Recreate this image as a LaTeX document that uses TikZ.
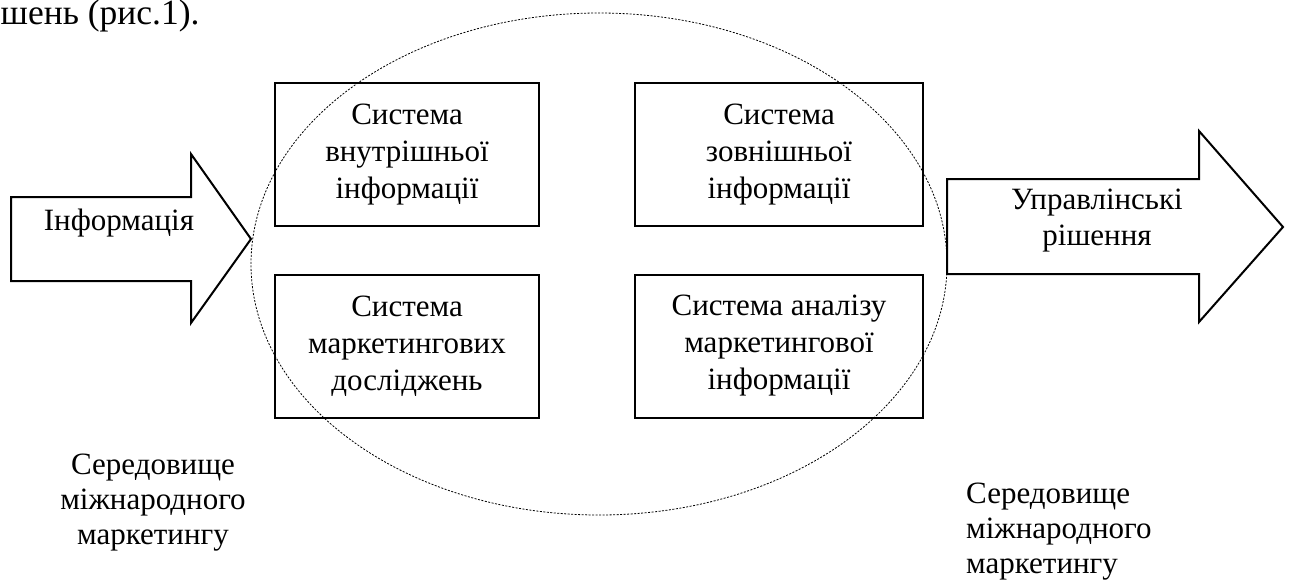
\documentclass[tikz,border=0pt]{standalone}
\usepackage{fontspec}
\setmainfont{Liberation Serif}
\usetikzlibrary{shapes.geometric}
\begin{document}
\begin{tikzpicture}[x=1pt,y=-1pt,
  lbl/.style={font=\fontsize{31}{35}\selectfont, inner sep=0pt, align=center},
  sysbox/.style={draw, line width=2pt, inner sep=0pt, align=center,
    minimum height=143pt, font=\fontsize{31}{37}\selectfont},
  bigarrow/.style={draw, line width=2pt, line join=miter},
  envline/.style={draw, line width=0.8pt, dash pattern=on 2pt off 1.5pt}]
\useasboundingbox (0,0) rectangle (1289,586);
% caption fragment
\node[anchor=base west, inner sep=0pt, font=\fontsize{35.5}{40}\selectfont] (cap) at (0.5,25) {шень (рис.1).};
% boxes
\node[sysbox, minimum width=264pt] (b1) at (407,154.5) {Система\\внутрішньої\\інформації};
\node[sysbox, minimum width=288pt] (b2) at (779,154.5) {Система\\зовнішньої\\інформації};
\node[sysbox, minimum width=264pt] (b3) at (407,346) {Система\\маркетингових\\досліджень};
\node[sysbox, minimum width=288pt] (b4) at (779,346) {Система аналізу\\маркетингової\\інформації};
% environment ellipse
\node[envline, ellipse, inner sep=0pt, minimum width=696pt, minimum height=502pt] (env) at (599,264) {};
% arrows
\draw[bigarrow] (11,197) -- (191,197) -- (191,154) -- (251,239) -- (191,323) -- (191,281) -- (11,281) -- cycle;
\draw[bigarrow] (947,179) -- (1199,179) -- (1199,131) -- (1283,227) -- (1199,322) -- (1199,274) -- (947,274) -- cycle;
\node[lbl, anchor=base] (inf) at (119,230) {Інформація};
\node[lbl, font=\fontsize{31}{36}\selectfont] (dec) at (1097,221) {Управлінські\\рішення};
% environment labels
\node[lbl] (envl) at (153,503) {Середовище\\міжнародного\\маркетингу};
\node[lbl, align=left, anchor=west] (envr) at (966,532) {Середовище\\міжнародного\\маркетингу};
\end{tikzpicture}
\end{document}
